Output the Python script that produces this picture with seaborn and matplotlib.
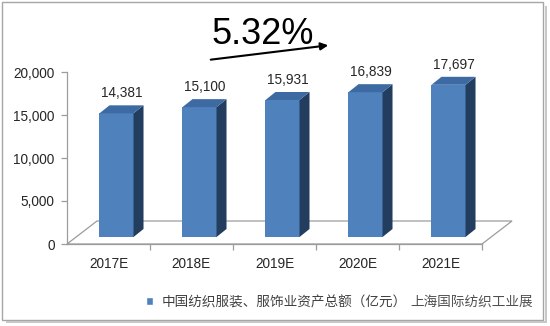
import matplotlib
matplotlib.use('Agg')
import matplotlib.pyplot as plt
import seaborn as sns
import pandas as pd
from matplotlib.patches import Polygon, Rectangle, Patch, FancyArrowPatch
from matplotlib.transforms import IdentityTransform, offset_copy

# ---- data ----
years = ['2017E', '2018E', '2019E', '2020E', '2021E']
values = [14381, 15100, 15931, 16839, 17697]
yticks = [0, 5000, 10000, 15000, 20000]
series_name = '中国纺织服装、服饰业资产总额（亿元）'
watermark = '上海国际纺织工业展'
cagr_label = '5.32%'

sns.set_theme(style='white')
plt.rcParams['font.family'] = ['Liberation Sans', 'Noto Sans CJK SC', 'DejaVu Sans']

W, H = 550, 326
FRONT = '#4F81BD'
TOP = '#3E6AA3'
SIDE = '#233D5E'
GRID = '#9C9C9C'
TXT = '#262626'

fig = plt.figure(figsize=(W / 100, H / 100), dpi=100)
fig.patch.set_facecolor('white')
ax = fig.add_axes([67 / W, (H - 244) / H, (482 - 67) / W, 172 / H])
ax.set_facecolor('none')

df = pd.DataFrame({'year': years, 'value': values})
sns.barplot(data=df, x='year', y='value', color=FRONT, width=0.41,
            saturation=1, ax=ax, zorder=5)
ax.set_xlim(-0.5, len(years) - 0.5)
ax.set_ylim(yticks[0], yticks[-1])
ax.autoscale(False)

# 3D offsets (pixels)
bdx, bdy = 8, 7      # bar front offset from floor front edge
dx, dy = 10, 8       # bar depth
fdx, fdy = 30, 23    # floor depth

# floor parallelogram
x0, y0 = ax.transData.transform((-0.5, 0))
x1, _ = ax.transData.transform((len(years) - 0.5, 0))
floor = Polygon([(x0, y0), (x1, y0), (x1 + fdx, y0 + fdy), (x0 + fdx, y0 + fdy)],
                closed=True, facecolor='none', edgecolor=GRID, lw=0.9,
                transform=IdentityTransform(), clip_on=False, zorder=1)
ax.add_patch(floor)

bar_tr = offset_copy(ax.transData, fig=fig, x=bdx, y=bdy, units='dots')
for p in list(ax.patches):
    if p is floor:
        continue
    p.set_transform(bar_tr)
    p.set_clip_on(False)
    p.set_edgecolor('none')
    bx, by = p.get_x(), p.get_y()
    bw, bh = p.get_width(), p.get_height()
    (lx, ty) = ax.transData.transform((bx, by + bh))
    (rx, byy) = ax.transData.transform((bx + bw, by))
    lx += bdx; rx += bdx; ty += bdy; byy += bdy
    side = Polygon([(rx, byy), (rx, ty), (rx + dx, ty + dy), (rx + dx, byy + dy)],
                   closed=True, facecolor=SIDE, edgecolor='none',
                   transform=IdentityTransform(), clip_on=False, zorder=5)
    top = Polygon([(lx, ty), (rx, ty), (rx + dx, ty + dy), (lx + dx, ty + dy)],
                  closed=True, facecolor=TOP, edgecolor='none',
                  transform=IdentityTransform(), clip_on=False, zorder=5)
    ax.add_patch(side)
    ax.add_patch(top)

# data labels
for i, v in enumerate(values):
    ax.annotate(f'{v:,}', xy=(i, v), xytext=(bdx + 5, bdy + dy + 5),
                textcoords='offset pixels', ha='center', va='bottom',
                fontsize=9.8, color=TXT, zorder=6)

# axes styling
for s in ['top', 'right']:
    ax.spines[s].set_visible(False)
ax.spines['left'].set_color(GRID)
ax.spines['left'].set_linewidth(0.9)
ax.spines['bottom'].set_color(GRID)
ax.spines['bottom'].set_linewidth(0.9)
ax.set_yticks(yticks)
ax.set_yticklabels([f'{t:,}' for t in yticks])
ax.tick_params(axis='y', left=True, length=4, width=0.9, color=GRID,
               pad=5, labelsize=9.8, labelcolor=TXT, direction='out')
ax.set_xticks(range(len(years)))
ax.set_xticklabels(years)
ax.tick_params(axis='x', bottom=False, length=0, pad=9, labelsize=9.8, labelcolor=TXT)
ax.set_xticks([i + 0.5 for i in range(len(years))], minor=True)
ax.tick_params(axis='x', which='minor', bottom=True, length=4, width=0.9,
               color=GRID, direction='out')
ax.set_xlabel('')
ax.set_ylabel('')
ax.grid(False)

# CAGR label and arrow
fig.text(263 / W, 1 - 34 / H, cagr_label, fontsize=26, ha='center', va='center',
         color='black')
fig.add_artist(FancyArrowPatch(
    (208 / W, 1 - 60 / H), (331 / W, 1 - 45 / H), transform=fig.transFigure,
    arrowstyle='-|>', mutation_scale=11, lw=1.5, color='black'))

# legend
fig.legend(handles=[Patch(facecolor=FRONT, label=series_name)],
           loc='center left', bbox_to_anchor=(146 / W, 1 - 302 / H),
           frameon=False, handlelength=0.55, handleheight=0.55,
           handletextpad=0.6, fontsize=9.8, labelcolor='#404040',
           borderpad=0, borderaxespad=0)
fig.text(410 / W, 1 - 302 / H, watermark, fontsize=9.8, ha='left', va='center',
         color='#505050')

# outer frame with shadow
fig.add_artist(Rectangle((2 / W, (H - 320) / H), (543 - 2) / W, (320 - 2) / H,
                         transform=fig.transFigure, fill=False,
                         edgecolor='#A6A6A6', lw=1.0))
fig.add_artist(Rectangle((545 / W, (H - 323) / H), 2 / W, (323 - 6) / H,
                         transform=fig.transFigure, facecolor='#C8C8C8',
                         edgecolor='none'))
fig.add_artist(Rectangle((6 / W, (H - 323) / H), (547 - 6) / W, 2 / H,
                         transform=fig.transFigure, facecolor='#C8C8C8',
                         edgecolor='none'))

fig.savefig('out.png', dpi=100, facecolor='white')
